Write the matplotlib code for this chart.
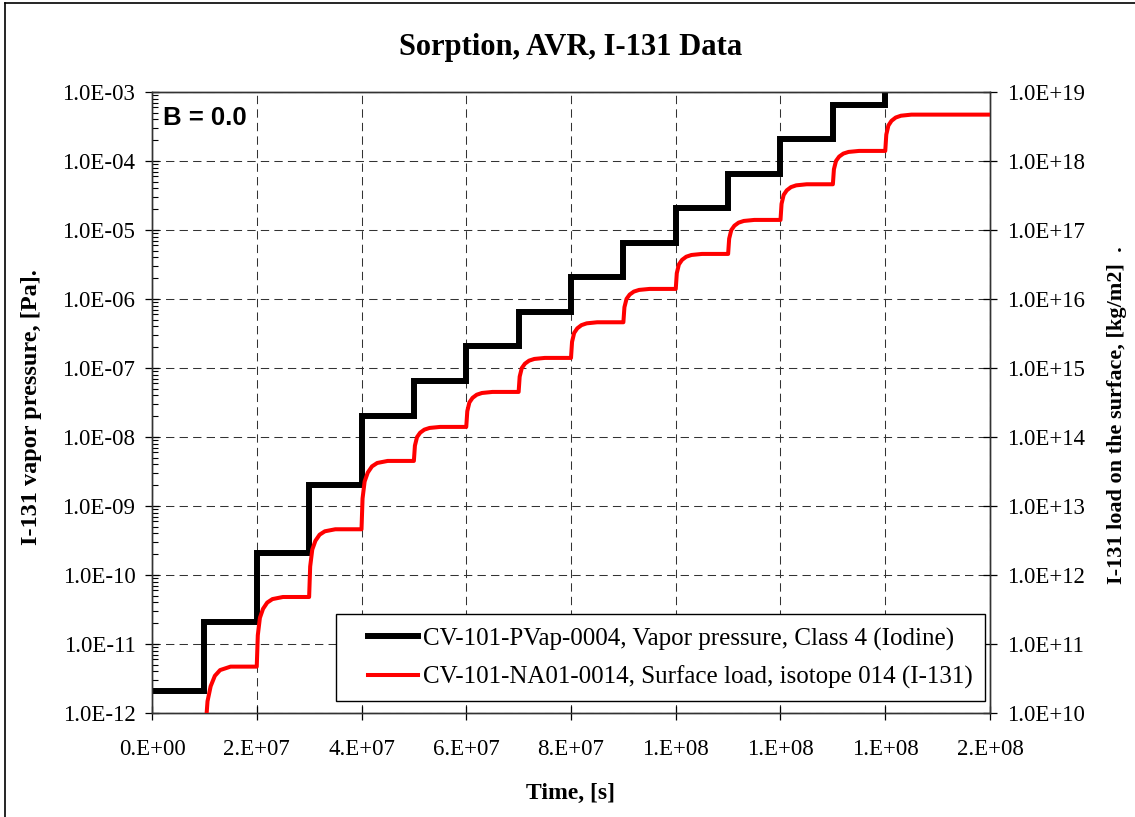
import matplotlib
matplotlib.use("Agg")
import matplotlib.pyplot as plt
from matplotlib.lines import Line2D
from matplotlib.patches import Rectangle
from matplotlib.ticker import FixedLocator, FuncFormatter, LogLocator, NullLocator

# step times [s]
step_times = [0.0, 1e7, 2e7, 3e7, 4e7, 5e7, 6e7, 7e7, 8e7, 9e7, 1e8, 1.1e8, 1.2e8, 1.3e8, 1.4e8]

# vapor pressure plateaus [Pa], one per step (last one runs off the top)
pvap_levels = [2.1e-12, 2.1e-11, 2.1e-10, 2.0e-9, 2.0e-8, 6.5e-8, 2.1e-7, 6.5e-7,
               2.1e-6, 6.5e-6, 2.1e-5, 6.5e-5, 2.1e-4, 6.5e-4, 2.1e-3]

# surface load plateaus [kg/m2], reached after steps at 1e7 ... 1.4e8
load_start = 1e9
load_levels = [4.7e10, 4.8e11, 4.6e12, 4.5e13, 1.4e14, 4.5e14, 1.4e15, 4.6e15,
               1.4e16, 4.5e16, 1.4e17, 4.6e17, 1.4e18, 4.7e18]
load_end_time = 1.6e8

# shape of each surface-load rise:
# time after the step [s] and fraction of the (log) rise reached
rise_dt = [0.0, 0.02e7, 0.06e7, 0.12e7, 0.2e7, 0.3e7, 0.5e7]
rise_frac = [0.0, 0.45, 0.7, 0.83, 0.92, 0.97, 1.0]

x_ticks = [0, 2e7, 4e7, 6e7, 8e7, 1e8, 1.2e8, 1.4e8, 1.6e8]

plt.rcParams["font.family"] = "Liberation Serif"

# build the stair lines
px, py = [], []
for i, t in enumerate(step_times):
    if i > 0:
        px.append(t)
        py.append(pvap_levels[i - 1])
    px.append(t)
    py.append(pvap_levels[i])

lx, ly = [], []
prev = load_start
for t, lev in zip(step_times[1:], load_levels):
    for dt, f in zip(rise_dt, rise_frac):
        lx.append(t + dt)
        ly.append(prev * (lev / prev) ** f)
    prev = lev
lx.append(load_end_time)
ly.append(prev)

fig = plt.figure(figsize=(11.35, 8.17), dpi=100)
ax = fig.add_axes([152 / 1135, 1 - 713 / 817, 838 / 1135, 621 / 817])
ax2 = ax.twinx()

ax.plot(px, py, color="black", lw=4.3, solid_joinstyle="miter", zorder=3)
ax2.plot(lx, ly, color="#ff0000", lw=2.9, zorder=3)

ax.set_xlim(0, 1.6e8)
ax.set_yscale("log")
ax.set_ylim(1e-12, 1e-3)
ax2.set_yscale("log")
ax2.set_ylim(1e10, 1e19)

ax.xaxis.set_major_locator(FixedLocator(x_ticks))
ax.xaxis.set_major_formatter(FuncFormatter(lambda v, p: "%#.0E" % v))
ax.yaxis.set_major_locator(LogLocator(base=10, numticks=20))
ax.yaxis.set_minor_locator(LogLocator(base=10, subs=range(2, 10), numticks=20))
ax.yaxis.set_major_formatter(FuncFormatter(lambda v, p: "%.1E" % v))
ax2.yaxis.set_major_locator(LogLocator(base=10, numticks=20))
ax2.yaxis.set_minor_locator(NullLocator())
ax2.yaxis.set_major_formatter(FuncFormatter(lambda v, p: "%.1E" % v))

ax.tick_params(axis="both", which="major", direction="inout", length=10, width=0.9,
               labelsize=16.5, pad=7)
ax.tick_params(axis="x", pad=14)
ax.tick_params(axis="y", which="minor", direction="in", length=4.5, width=0.8)
ax2.tick_params(axis="y", which="major", direction="inout", length=10, width=0.9,
                labelsize=16.5, pad=7)

ax.grid(True, which="major", color="#333333", lw=0.75, linestyle=(0, (8, 5)))
for a in (ax, ax2):
    for s in a.spines.values():
        s.set_linewidth(1.0)
        s.set_color("#333333")

ax.set_title("Sorption, AVR, I-131 Data", fontsize=22, fontweight="bold", pad=27)
ax.set_xlabel("Time, [s]", fontsize=17, fontweight="bold")
ax.xaxis.set_label_coords(0.5, -0.112)
ax.set_ylabel("I-131 vapor pressure, [Pa].", fontsize=17.5, fontweight="bold")
ax.yaxis.set_label_coords(-0.131, 0.493)
ax2.set_ylabel("I-131 load on the surface, [kg/m2]  .", fontsize=16, fontweight="bold")
ax2.yaxis.set_label_coords(1.14, 0.48)

ax.text(0.013, 0.958, "B = 0.0", transform=ax.transAxes, fontsize=18.5,
        fontweight="bold", family="Liberation Sans", ha="left", va="center")

# legend box
ax2.add_patch(Rectangle((0.2196, 0.0193), 0.7745, 0.1401, transform=ax2.transAxes,
                        facecolor="white", edgecolor="black", lw=1.0, zorder=4))
handles = [Line2D([], [], color="black", lw=4.3),
           Line2D([], [], color="#ff0000", lw=2.9)]
labels = ["CV-101-PVap-0004, Vapor pressure, Class 4 (Iodine)",
          "CV-101-NA01-0014, Surface load, isotope 014 (I-131)"]
leg = ax2.legend(handles, labels, loc="center left", bbox_to_anchor=(0.2575, 0.0878),
                 fontsize=18, frameon=False, handlelength=2.0, handletextpad=0.2,
                 borderpad=0, labelspacing=0.62, borderaxespad=0)
leg.set_zorder(5)

# outer chart frame
fig.add_artist(Line2D([5 / 1135, 5 / 1135], [0, 1 - 3 / 817], color="black", lw=1.2))
fig.add_artist(Line2D([5 / 1135, 1], [1 - 3 / 817, 1 - 3 / 817], color="black", lw=1.2))

fig.savefig("out.png", dpi=100)
